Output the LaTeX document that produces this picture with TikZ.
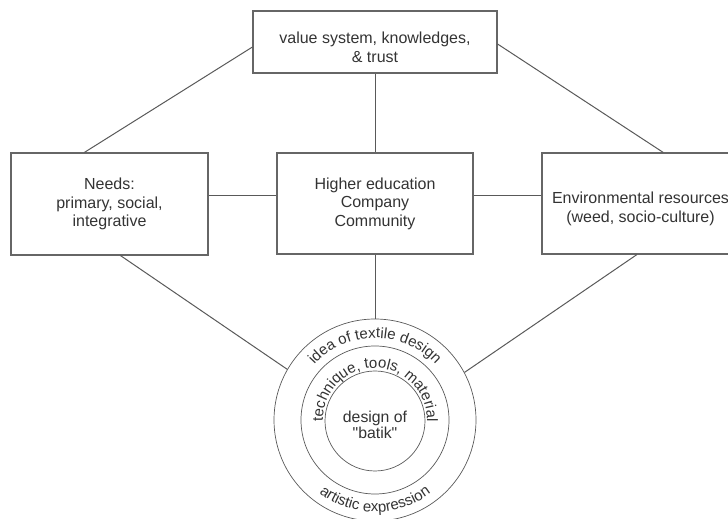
\documentclass[tikz,border=0pt]{standalone}
\usepackage{fontspec}
\setmainfont{Liberation Sans}[Ligatures=TeXOff]
\usetikzlibrary{decorations.text}
\begin{document}
\begin{tikzpicture}[x=1pt,y=1pt,
  boxnode/.style={draw=black!60, line width=1.1pt, rectangle, inner sep=0pt, align=center,
    text=black!80, font=\fontsize{16}{18.5}\selectfont},
  ring/.style={draw=black!65, line width=0.7pt, circle, inner sep=0pt},
  conn/.style={draw=black!65, line width=1pt},
  arctext/.style={decorate, decoration={text along path, text align=center, text color=black!80}}
]
\useasboundingbox (0,0) rectangle (728,519);
\node[boxnode, minimum width=244pt, minimum height=62pt] (top) at (375,477)
  {\rule{0pt}{22pt}value system, knowledges,\\ \& trust};
\node[boxnode, minimum width=197pt, minimum height=102pt] (needs) at (109.5,315)
  {Needs:\\ primary, social,\\ integrative};
\node[boxnode, minimum width=196pt, minimum height=101pt] (mid) at (375,315.5)
  {Higher education\\ Company\\ Community};
\node[boxnode, minimum width=197pt, minimum height=101pt] (env) at (640.5,315.5)
  {\rule{0pt}{22pt}Environmental resources\\ (weed, socio-culture)};
\node[ring, minimum size=202pt] (outer) at (375,99) {};
\node[ring, minimum size=148pt] (midc) at (375,99) {};
\node[ring, minimum size=100pt, align=center, text=black!80,
  font=\fontsize{15.8}{16.5}\selectfont] (innc) at (375,98) {\rule{0pt}{19pt}design of\\"batik"};
% connectors
\draw[conn] ([yshift=-5pt]top.west) -- (needs.116);
\draw[conn] ([yshift=-2pt]top.east) -- (env.66);
\draw[conn] (top.south) -- (mid.north);
\draw[conn] ([yshift=8pt]needs.east) -- ([yshift=8pt]needs.east -| mid.west);
\draw[conn] ([yshift=8pt]mid.east) -- ([yshift=8pt]mid.east -| env.west);
\draw[conn] (mid.south) -- (outer.north);
\draw[conn] (needs.282) -- (outer.150);
\draw[conn] (env.266) -- (outer.28);
% ring texts
\path[arctext, decoration={text={|\fontsize{15}{18}\selectfont|idea of textile design}}]
  ([shift={(150:82)}]outer.center) arc[start angle=150, end angle=30, radius=82];
\path[arctext, decoration={text={|\fontsize{15}{18}\selectfont|technique, tools, material}}]
  ([shift={(200:52)}]outer.center) arc[start angle=200, end angle=-20, radius=52];
\path[arctext, decoration={text={|\fontsize{15}{18}\selectfont|artistic expression}}]
  ([shift={(-140:92)}]outer.center) arc[start angle=-140, end angle=-40, radius=92];
\end{tikzpicture}
\end{document}
